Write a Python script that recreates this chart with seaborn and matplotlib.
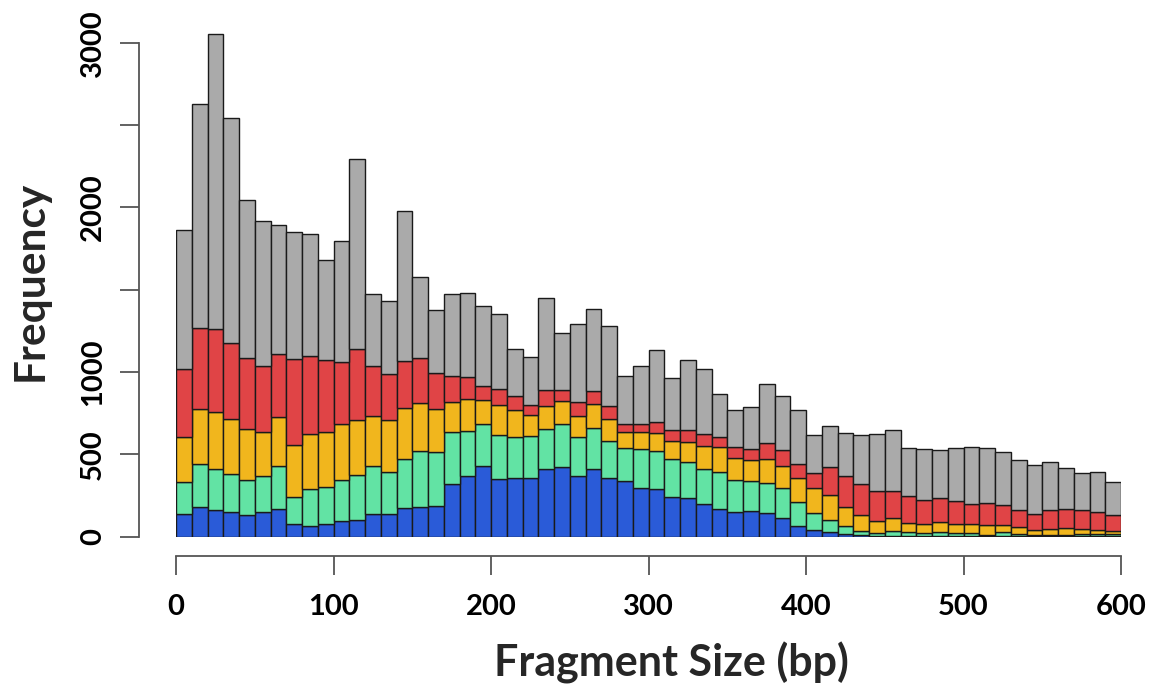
import numpy as np
import pandas as pd
import matplotlib
matplotlib.use("Agg")
import matplotlib.pyplot as plt
import seaborn as sns

# ---- data (counts per 10-bp bin) ----
bin_starts = list(range(0, 600, 10))
blue = [136, 179, 165, 150, 134, 150, 169, 78, 66, 78,
        95, 103, 140, 136, 177, 181, 189, 323, 366, 428,
        349, 355, 355, 410, 422, 367, 412, 355, 341, 294,
        290, 241, 233, 199, 168, 152, 158, 142, 116, 67,
        43, 28, 16, 10, 6, 6, 4, 3, 4, 3,
        3, 2, 5, 3, 2, 2, 2, 2, 2, 2]
green = [195, 263, 247, 233, 208, 216, 263, 163, 222, 222,
         251, 271, 292, 255, 292, 338, 325, 315, 278, 257,
         270, 251, 258, 247, 262, 239, 247, 227, 199, 241,
         233, 232, 221, 211, 226, 195, 183, 183, 178, 144,
         99, 75, 47, 27, 18, 31, 22, 17, 22, 17,
         17, 10, 21, 13, 8, 10, 10, 12, 14, 12]
yellow = [274, 336, 345, 333, 312, 268, 292, 315, 335, 334,
          341, 334, 301, 317, 315, 294, 264, 181, 191, 146,
          178, 163, 125, 136, 140, 128, 148, 134, 97, 102,
          108, 111, 124, 138, 150, 130, 124, 146, 138, 144,
          154, 151, 120, 95, 73, 77, 59, 57, 65, 57,
          55, 59, 45, 45, 31, 35, 43, 35, 27, 18]
red = [416, 489, 506, 463, 432, 405, 383, 526, 474, 442,
       373, 434, 302, 282, 286, 273, 214, 154, 132, 87,
       102, 85, 59, 99, 64, 83, 79, 77, 49, 49,
       65, 61, 73, 77, 60, 67, 70, 97, 97, 87,
       91, 172, 188, 188, 183, 166, 160, 146, 142, 142,
       124, 132, 124, 103, 97, 115, 111, 113, 107, 98]
gray = [843, 1359, 1788, 1364, 961, 879, 788, 770, 743, 603,
        736, 1150, 436, 440, 907, 494, 382, 500, 510, 483,
        452, 286, 294, 556, 349, 473, 497, 487, 288, 353,
        436, 319, 424, 391, 264, 227, 252, 361, 325, 325,
        232, 249, 260, 295, 345, 369, 293, 308, 296, 319,
        345, 335, 322, 303, 300, 290, 252, 223, 244, 201]

groups = ["gray", "red", "yellow", "green", "blue"]
colors = {"gray": "#aaaaaa", "red": "#e04446", "yellow": "#f1b61d",
          "green": "#62e3a4", "blue": "#2a5bd8"}
x_ticks = [0, 100, 200, 300, 400, 500, 600]
y_ticks = [0, 500, 1000, 1500, 2000, 2500, 3000]
y_tick_labels = ["0", "500", "1000", "", "2000", "", "3000"]

series = {"gray": gray, "red": red, "yellow": yellow, "green": green, "blue": blue}
rows = []
for g in groups:
    for s, c in zip(bin_starts, series[g]):
        rows.append({"size": s + 5, "count": c, "group": g})
df = pd.DataFrame(rows)

sns.set_theme(style="white")
plt.rcParams["font.family"] = ["Lato", "DejaVu Sans"]
plt.rcParams["font.weight"] = "bold"

W, H = 1156, 693
fig = plt.figure(figsize=(W / 100, H / 100), dpi=100)
# data 0..600 -> px 176..1121 ; y 0 -> 536.7, 3000 -> 42.7
px_per_unit = (536.7 - 42.7) / 3000
ytop = 3100
top_px = 536.7 - ytop * px_per_unit
ax = fig.add_axes([176 / W, (H - 536.7) / H, (1121 - 176) / W, (536.7 - top_px) / H])

sns.histplot(data=df, x="size", weights="count", hue="group", hue_order=groups,
             multiple="stack", binwidth=10, binrange=(0, 600), palette=colors,
             edgecolor="#1a1a1a", linewidth=1.0, alpha=1, legend=False, ax=ax)

ax.set_xlim(0, 600)
ax.set_ylim(0, ytop)
for sp in ["top", "right"]:
    ax.spines[sp].set_visible(False)
ax.spines["left"].set_position(("outward", (176 - 138.7) * 0.72))
ax.spines["bottom"].set_position(("outward", (556 - 536.7) * 0.72))
ax.spines["left"].set_bounds(0, 3000)
ax.spines["bottom"].set_bounds(0, 600)
for sp in ["left", "bottom"]:
    ax.spines[sp].set_color("#555555")
    ax.spines[sp].set_linewidth(1.3)

ax.set_xticks(x_ticks)
ax.set_xticklabels([str(v) for v in x_ticks])
ax.set_yticks(y_ticks)
ax.set_yticklabels(y_tick_labels, rotation=90, va="center")
ax.tick_params(axis="both", which="both", length=13.5, width=1.3, color="#555555",
               labelsize=21, labelcolor="black")
ax.tick_params(axis="x", pad=14, bottom=True)
ax.tick_params(axis="y", pad=10, left=True)
for lab in ax.get_xticklabels() + ax.get_yticklabels():
    lab.set_fontweight("bold")
ax.set_xlabel("")
ax.set_ylabel("")

fig.text(671.5 / W, (H - 676.7) / H, "Fragment Size (bp)", ha="center", va="baseline",
         fontsize=31, fontweight="bold")
fig.text(31 / W, (H - 281) / H, "Frequency", ha="center", va="center", rotation=90,
         fontsize=30.5, fontweight="bold")

fig.savefig("out.png", dpi=100, facecolor="white")
